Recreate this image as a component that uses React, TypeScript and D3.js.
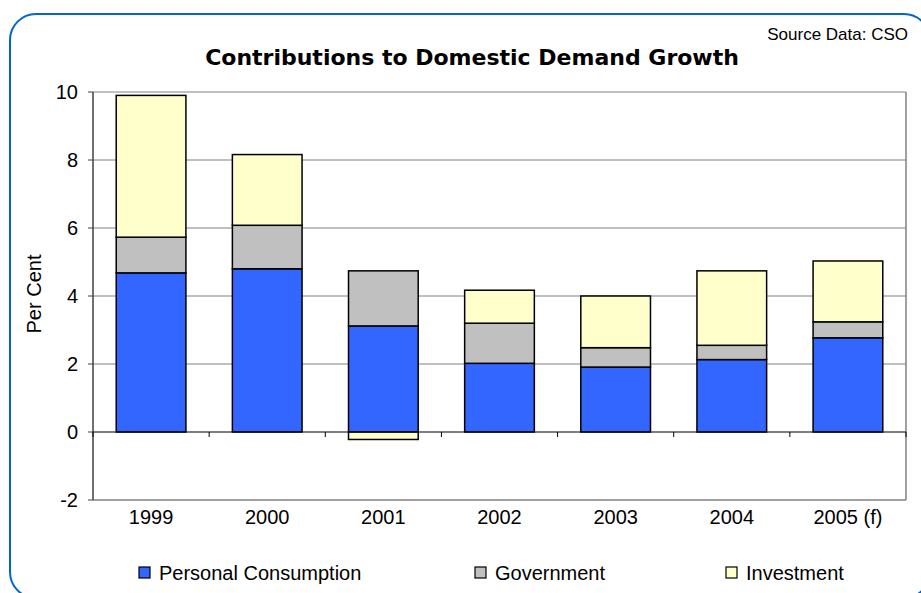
import React from "react";
import * as d3 from "d3";

const categories = ["1999", "2000", "2001", "2002", "2003", "2004", "2005 (f)"];
const personal = [4.68, 4.8, 3.12, 2.02, 1.91, 2.13, 2.77];
const government = [1.05, 1.28, 1.62, 1.18, 0.57, 0.42, 0.47];
const investment = [4.17, 2.08, -0.22, 0.97, 1.52, 2.19, 1.79];
const seriesNames = ["Personal Consumption", "Government", "Investment"];
const seriesColors = ["#3366FF", "#C0C0C0", "#FFFFCC"];
const yTicks = [-2, 0, 2, 4, 6, 8, 10];

export default function App() {
  const W = 921, H = 593;
  const left = 93, right = 906, top = 92, bottom = 500;
  const x = d3.scaleBand().domain(categories).range([left, right]).paddingInner(0.4).paddingOuter(0.2);
  const xb = d3.scaleBand().domain(categories).range([left, right]);
  const y = d3.scaleLinear().domain([-2, 10]).range([bottom, top]);

  const rows = categories.map((c, i) => ({ cat: c, p: personal[i], g: government[i], v: investment[i] }));
  const stack = d3.stack<any>().keys(["p", "g", "v"]).offset(d3.stackOffsetDiverging);
  const stacked = stack(rows);

  const legendX = [139, 475, 726];
  const font = "Liberation Sans, Arial, sans-serif";

  return (
    <svg width={W} height={H} style={{ position: "absolute", left: 0, top: 0 }}>
      <rect x={0} y={0} width={W} height={H} fill="#fff" />
      <rect x={10} y={14} width={920} height={584} rx={26} ry={26} fill="#fff" stroke="#0066CC" strokeWidth={2} />
      <text x={908} y={40} textAnchor="end" fontFamily={font} fontSize={17} fill="#000">Source Data: CSO</text>
      <text x={472} y={65} textAnchor="middle" fontFamily="DejaVu Sans, Verdana, sans-serif" fontWeight="bold" fontSize={22} fill="#000">Contributions to Domestic Demand Growth</text>

      {/* gridlines */}
      {yTicks.filter(t => t > 0).map(t => (
        <line key={t} x1={left} x2={right} y1={y(t)} y2={y(t)} stroke="#808080" strokeWidth={1} />
      ))}
      <line x1={left} x2={right} y1={y(-2)} y2={y(-2)} stroke="#808080" strokeWidth={1.5} />
      <line x1={right} x2={right} y1={top} y2={bottom} stroke="#808080" strokeWidth={1.5} />

      {/* bars */}
      {stacked.map((s, si) =>
        s.map((d, i) => {
          const y0 = Math.min(y(d[0]), y(d[1]));
          const h = Math.abs(y(d[0]) - y(d[1]));
          return (
            <rect key={`${si}-${i}`} x={x(categories[i])!} width={x.bandwidth()} y={y0} height={h}
              fill={seriesColors[si]} stroke="#000" strokeWidth={1.5} />
          );
        })
      )}

      {/* axes */}
      <line x1={left} x2={left} y1={top} y2={bottom} stroke="#404040" strokeWidth={1.5} />
      <line x1={left} x2={right} y1={y(0)} y2={y(0)} stroke="#000" strokeWidth={1.2} />
      {yTicks.map(t => (
        <g key={t}>
          <line x1={left - 5} x2={left} y1={y(t)} y2={y(t)} stroke="#404040" strokeWidth={1} />
          <text x={78} y={y(t) + 7} textAnchor="end" fontFamily={font} fontSize={20} fill="#000">{t}</text>
        </g>
      ))}
      {categories.map((c, i) => (
        <g key={c}>
          <line x1={xb(c)!} x2={xb(c)!} y1={y(0)} y2={y(0) + 5} stroke="#000" strokeWidth={1} />
          <text x={xb(c)! + xb.bandwidth() / 2} y={524} textAnchor="middle" fontFamily={font} fontSize={20} fill="#000">{c}</text>
        </g>
      ))}
      <line x1={right} x2={right} y1={y(0)} y2={y(0) + 5} stroke="#000" strokeWidth={1} />
      <text transform={`translate(41,${(top + bottom) / 2 - 2}) rotate(-90)`} textAnchor="middle" fontFamily={font} fontSize={20} fill="#000">Per Cent</text>

      {/* legend */}
      {seriesNames.map((n, i) => (
        <g key={n}>
          <rect x={legendX[i]} y={567} width={11} height={11} fill={seriesColors[i]} stroke="#000" strokeWidth={1.2} />
          <text x={legendX[i] + 20} y={580} fontFamily={font} fontSize={20} fill="#000">{n}</text>
        </g>
      ))}
    </svg>
  );
}
